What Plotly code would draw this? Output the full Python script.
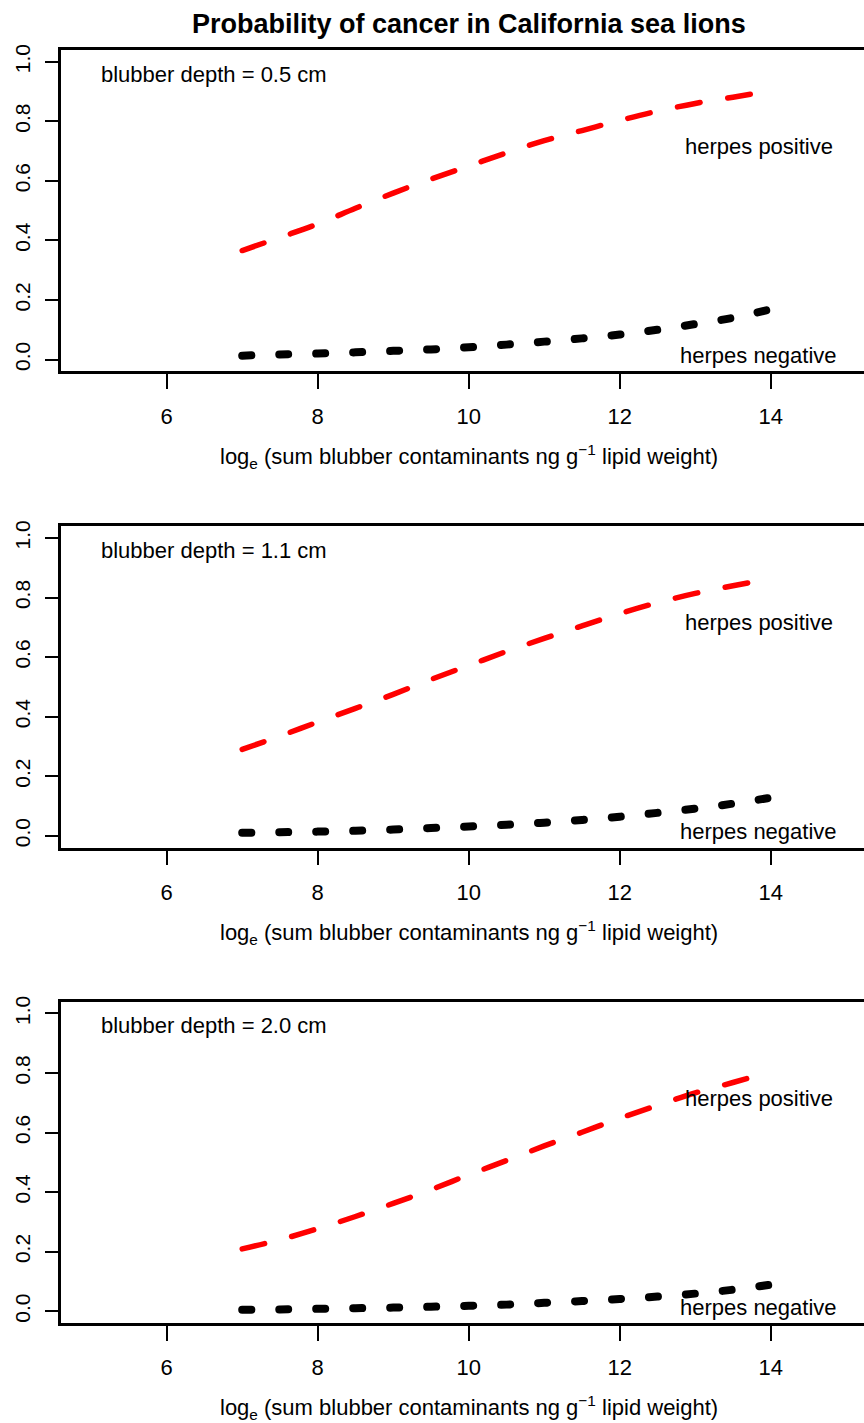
import plotly.graph_objects as go

# ---- data ----
x_vals = [7.0, 7.5, 8.0, 8.5, 9.0, 9.5, 10.0, 10.5, 11.0, 11.5, 12.0, 12.5, 13.0, 13.5, 14.0]

pos_05 = [0.366, 0.41, 0.455, 0.508, 0.559, 0.606, 0.65, 0.694, 0.735, 0.769, 0.803, 0.834, 0.86, 0.881, 0.902]
neg_05 = [0.013, 0.017, 0.02, 0.024, 0.029, 0.034, 0.041, 0.05, 0.06, 0.071, 0.084, 0.1, 0.119, 0.14, 0.169]

pos_11 = [0.29, 0.335, 0.382, 0.428, 0.475, 0.525, 0.572, 0.619, 0.663, 0.705, 0.746, 0.783, 0.814, 0.84, 0.863]
neg_11 = [0.01, 0.012, 0.014, 0.017, 0.021, 0.026, 0.031, 0.037, 0.044, 0.053, 0.064, 0.077, 0.091, 0.108, 0.128]

pos_20 = [0.209, 0.24, 0.277, 0.318, 0.362, 0.408, 0.458, 0.506, 0.555, 0.601, 0.648, 0.691, 0.733, 0.768, 0.804]
neg_20 = [0.005, 0.006, 0.008, 0.01, 0.012, 0.015, 0.018, 0.022, 0.028, 0.034, 0.041, 0.049, 0.059, 0.072, 0.089]

depth_labels = ["blubber depth = 0.5 cm", "blubber depth = 1.1 cm", "blubber depth = 2.0 cm"]
positive_series = [pos_05, pos_11, pos_20]
negative_series = [neg_05, neg_11, neg_20]

x_ticks = [6, 8, 10, 12, 14]
y_ticks = [0.0, 0.2, 0.4, 0.6, 0.8, 1.0]
y_ticktext = ["0.0", "0.2", "0.4", "0.6", "0.8", "1.0"]

title_text = "<b>Probability of cancer in California sea lions</b>"
x_title = "log<sub>e</sub> (sum blubber contaminants ng g<sup>\u22121</sup> lipid weight)"

# ---- layout geometry (pixels) ----
W, H = 864, 1423
FONT = "Liberation Sans, Arial, sans-serif"
zero_px = [355.0, 833.3, 1310.7]
scale_px = 299.0
left_px = 61.0
x_lo = 4.6
px_per_unit = 75.5
x_hi = x_lo + (W - left_px) / px_per_unit

fig = go.Figure()
annotations = []
layout_axes = {}

for k in range(3):
    xa = "x" if k == 0 else f"x{k+1}"
    ya = "y" if k == 0 else f"y{k+1}"
    top = zero_px[k] - 1.04 * scale_px
    bot = zero_px[k] + 0.04 * scale_px

    fig.add_trace(go.Scatter(
        x=x_vals, y=positive_series[k], mode="lines", xaxis=xa, yaxis=ya,
        line=dict(color="#ff0000", width=5.5, dash="23px,28px", shape="spline"),
        showlegend=False, hoverinfo="skip"))
    fig.add_trace(go.Scatter(
        x=x_vals, y=negative_series[k], mode="lines", xaxis=xa, yaxis=ya,
        line=dict(color="#000000", width=8, dash="9px,28px", shape="spline"),
        showlegend=False, hoverinfo="skip"))

    xkey = "xaxis" if k == 0 else f"xaxis{k+1}"
    ykey = "yaxis" if k == 0 else f"yaxis{k+1}"
    layout_axes[xkey] = dict(
        domain=[left_px / W, 1.0], range=[x_lo, x_hi], anchor=ya,
        showline=True, mirror=True, linecolor="black", linewidth=2.5,
        showgrid=False, zeroline=False, fixedrange=True,
        tickmode="array", tickvals=x_ticks, ticks="outside", ticklen=15,
        tickwidth=2, tickcolor="black", ticklabelstandoff=8,
        tickfont=dict(family=FONT, size=22, color="black"))
    layout_axes[ykey] = dict(
        domain=[1 - bot / H, 1 - top / H], range=[-0.04, 1.04], anchor=xa,
        showline=True, mirror=False, linecolor="black", linewidth=2.5,
        showgrid=False, zeroline=False, fixedrange=True,
        tickmode="array", tickvals=y_ticks, ticktext=y_ticktext,
        ticks="outside", ticklen=13, tickwidth=2, tickcolor="black",
        tickangle=-90, ticklabelstandoff=7,
        tickfont=dict(family=FONT, size=21, color="black"))

    annotations.append(dict(
        x=5.10, y=0.958, xref=xa, yref=ya, text=depth_labels[k], showarrow=False,
        xanchor="left", yanchor="middle", font=dict(family=FONT, size=22, color="black")))
    annotations.append(dict(
        x=13.84, y=0.715, xref=xa, yref=ya, text="herpes positive", showarrow=False,
        xanchor="center", yanchor="middle", font=dict(family=FONT, size=22, color="black")))
    annotations.append(dict(
        x=13.84, y=0.013, xref=xa, yref=ya, text="herpes negative", showarrow=False,
        xanchor="center", yanchor="middle", font=dict(family=FONT, size=22, color="black")))
    annotations.append(dict(
        x=469 / W, y=1 - (bot + 85) / H, xref="paper", yref="paper", text=x_title,
        showarrow=False, xanchor="center", yanchor="middle",
        font=dict(family=FONT, size=22, color="black")))

annotations.append(dict(
    x=469 / W, y=1 - 18 / H, xref="paper", yref="paper", text=title_text,
    showarrow=False, xanchor="center", yanchor="middle",
    font=dict(family=FONT, size=27, color="black")))

fig.update_layout(
    width=W, height=H, margin=dict(l=0, r=0, t=0, b=0),
    paper_bgcolor="white", plot_bgcolor="white", hovermode=False,
    annotations=annotations, **layout_axes)

post = """
document.body.style.margin = '0';
document.body.style.padding = '0';
document.documentElement.style.overflow = 'hidden';
document.querySelectorAll('.scatterlayer path.js-line').forEach(function(p){
  p.style.strokeLinecap = 'round';
});
"""
fig.write_html("out.html", post_script=post, config={"displayModeBar": False})
